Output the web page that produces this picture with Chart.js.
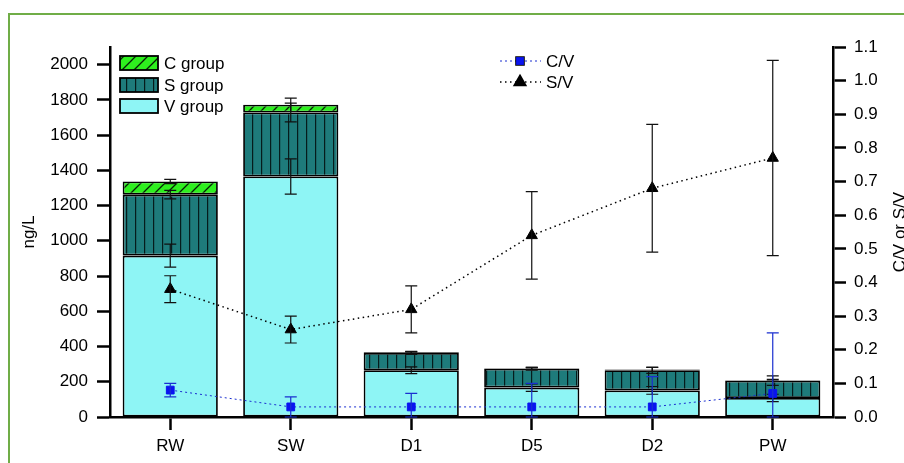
<!DOCTYPE html>
<html><head><meta charset="utf-8">
<script src="https://cdn.jsdelivr.net/npm/chart.js@4.4.1/dist/chart.umd.min.js"></script>
<style>
html,body{margin:0;padding:0;background:#fff;overflow:hidden;width:904px;height:463px}
#wrap{position:relative;width:904px;height:463px}
#frame{position:absolute;left:8px;top:13px;width:1000px;height:1000px;border:2.5px solid #70ad47;box-sizing:border-box;pointer-events:none}
canvas{position:absolute;left:0;top:0}
</style></head>
<body><div id="wrap"><canvas id="c" width="904" height="463"></canvas><div id="frame"></div></div>
<script>
// ---- data ----
const categories = ['RW', 'SW', 'D1', 'D5', 'D2', 'PW'];
const vGroup = [916, 1365, 265, 167, 151, 108];
const sGroup = [346, 363, 98, 107, 114, 98];
const cGroup = [75, 44, 4, 3, 4, 3];
const vErr = [65, 100, 19, 21, 22, 21];
const sErr = [24, 53, 8, 8, 18, 27];
const cErr = [12, 38, 5, 5, 12, 5];
const cvRatio = [0.08, 0.03, 0.03, 0.03, 0.03, 0.07];
const cvErr = [0.02, 0.03, 0.04, 0.07, 0.09, 0.18];
const svRatio = [0.38, 0.26, 0.32, 0.54, 0.68, 0.77];
const svErr = [0.04, 0.04, 0.07, 0.13, 0.19, 0.29];
const leftTicks = {min: 0, max: 2100, step: 200};
const rightTicks = {min: 0, max: 1.1, step: 0.1};

const FONT = 'Liberation Sans, Arial, sans-serif';
Chart.defaults.font.family = FONT;
Chart.defaults.color = '#000';

const canvas = document.getElementById('c');
const mctx = canvas.getContext('2d');

function makeVPattern() {
  const c = document.createElement('canvas'); c.width = 9; c.height = 9;
  const g = c.getContext('2d');
  g.fillStyle = '#1e7b7b'; g.fillRect(0, 0, 9, 9);
  g.fillStyle = '#051c1c'; g.fillRect(0, 0, 1.2, 9);
  return mctx.createPattern(c, 'repeat');
}
function makeDPattern() {
  const c = document.createElement('canvas'); c.width = 12; c.height = 12;
  const g = c.getContext('2d');
  g.fillStyle = '#2ef01e'; g.fillRect(0, 0, 12, 12);
  g.strokeStyle = '#062006'; g.lineWidth = 1.3;
  g.beginPath();
  g.moveTo(0, 12); g.lineTo(12, 0);
  g.moveTo(-6, 6); g.lineTo(6, -6);
  g.moveTo(6, 18); g.lineTo(18, 6);
  g.stroke();
  return mctx.createPattern(c, 'repeat');
}
const sPat = makeVPattern();
const cPat = makeDPattern();
const vColor = '#8ef5f5';
const blue = '#1a2fd0';

function drawErr(ctx, x, yTop, yBot, color, lw) {
  ctx.strokeStyle = color; ctx.lineWidth = lw;
  ctx.beginPath();
  ctx.moveTo(x, yTop); ctx.lineTo(x, yBot);
  ctx.moveTo(x - 6, yTop); ctx.lineTo(x + 6, yTop);
  ctx.moveTo(x - 6, yBot); ctx.lineTo(x + 6, yBot);
  ctx.stroke();
}

const overlay = {
  id: 'overlay',
  afterDatasetDraw(chart, args) {
    if (args.index !== 0) return;
    const ctx = chart.ctx, x = chart.scales.x, y = chart.scales.y;
    ctx.save();
    const stacks = [vGroup, sGroup, cGroup], errs = [vErr, sErr, cErr];
    categories.forEach((c, i) => {
      let cum = 0;
      const px = x.getPixelForValue(i);
      stacks.forEach((arr, k) => {
        cum += arr[i];
        drawErr(ctx, px, y.getPixelForValue(cum + errs[k][i]), y.getPixelForValue(cum - errs[k][i]), '#111', 1.2);
      });
    });
    ctx.restore();
  },
  afterDatasetsDraw(chart) {
    const ctx = chart.ctx, x = chart.scales.x, y2 = chart.scales.y2;
    ctx.save();
    categories.forEach((c, i) => {
      const px = x.getPixelForValue(i);
      drawErr(ctx, px, y2.getPixelForValue(svRatio[i] + svErr[i]), y2.getPixelForValue(svRatio[i] - svErr[i]), '#111', 1.2);
    });
    categories.forEach((c, i) => {
      const px = x.getPixelForValue(i);
      drawErr(ctx, px, y2.getPixelForValue(cvRatio[i] + cvErr[i]), y2.getPixelForValue(Math.max(0, cvRatio[i] - cvErr[i])), blue, 1.2);
    });
    ctx.restore();
  },
  afterDraw(chart) {
    const ctx = chart.ctx, ca = chart.chartArea;
    ctx.save();
    // axis titles
    ctx.fillStyle = '#000';
    ctx.font = '17px ' + FONT;
    ctx.textAlign = 'center'; ctx.textBaseline = 'middle';
    const midY = (ca.top + ca.bottom) / 2;
    ctx.save(); ctx.translate(29, midY); ctx.rotate(-Math.PI / 2); ctx.fillText('ng/L', 0, 0); ctx.restore();
    ctx.save(); ctx.translate(900, midY); ctx.rotate(-Math.PI / 2); ctx.fillText('C/V or S/V', 0, 0); ctx.restore();

    // bar legend
    const ds = chart.data.datasets;
    const items = [[ds[2], 63], [ds[1], 85], [ds[0], 106]];
    ctx.textAlign = 'left';
    items.forEach(([d, cy]) => {
      ctx.fillStyle = d.backgroundColor;
      ctx.fillRect(120, cy - 7, 38, 14);
      ctx.strokeStyle = '#000'; ctx.lineWidth = 1.8;
      ctx.strokeRect(120, cy - 7, 38, 14);
      ctx.fillStyle = '#000';
      ctx.fillText(d.label, 164, cy + 1);
    });

    // line legend
    const lines = [[ds[3], 61], [ds[4], 82]];
    lines.forEach(([d, cy]) => {
      ctx.save();
      ctx.strokeStyle = d.borderColor; ctx.lineWidth = d.borderWidth;
      ctx.setLineDash(d.borderDash);
      ctx.beginPath(); ctx.moveTo(500, cy); ctx.lineTo(541, cy); ctx.stroke();
      ctx.restore();
      Chart.helpers.drawPoint(ctx, {pointStyle: d.pointStyle, radius: d.pointRadius, rotation: 0, borderWidth: 1},
        520, cy);
      ctx.fillStyle = d.pointBackgroundColor;
      ctx.fill();
      ctx.fillStyle = '#000';
      ctx.fillText(d.label, 546, cy + 1);
    });
    ctx.restore();
  }
};

const axisCommon = {
  border: {display: true, color: '#000', width: 2.5},
  grid: {display: true, drawOnChartArea: false, drawTicks: true, tickLength: 13, tickWidth: 2.5, tickColor: '#000', color: '#000'},
};
const barStyle = {borderColor: '#000', borderWidth: 1.8, borderSkipped: false, stack: 's', yAxisID: 'y', order: 1, barPercentage: 0.79, categoryPercentage: 1};

new Chart(canvas, {
  type: 'bar',
  data: {
    labels: categories,
    datasets: [
      Object.assign({label: 'V group', data: vGroup, backgroundColor: vColor}, barStyle),
      Object.assign({label: 'S group', data: sGroup, backgroundColor: sPat}, barStyle),
      Object.assign({label: 'C group', data: cGroup, backgroundColor: cPat}, barStyle),
      {type: 'line', label: 'C/V', data: cvRatio, yAxisID: 'y2', borderColor: blue, borderWidth: 1, borderDash: [2, 3], pointStyle: 'rect', pointRadius: 5.5, pointBackgroundColor: '#0a14f0', pointBorderColor: '#0a14f0', pointBorderWidth: 1, tension: 0, order: 0},
      {type: 'line', label: 'S/V', data: svRatio, yAxisID: 'y2', borderColor: '#000', borderWidth: 1.5, borderDash: [1.5, 3.5], pointStyle: 'triangle', pointRadius: 6.5, pointBackgroundColor: '#000', pointBorderColor: '#000', pointBorderWidth: 1, tension: 0, order: 0}
    ]
  },
  options: {
    responsive: false,
    animation: false,
    events: [],
    layout: {padding: {left: 0, right: 0, top: 47, bottom: 0}},
    plugins: {legend: {display: false}, tooltip: {enabled: false}},
    scales: {
      x: {
        stacked: true, offset: true,
        border: axisCommon.border,
        grid: Object.assign({}, axisCommon.grid, {offset: false}),
        ticks: {font: {size: 17}, color: '#000', padding: 6, maxRotation: 0},
        afterFit(s) { s.height = 46; }
      },
      y: {
        type: 'linear', position: 'left', stacked: true,
        min: leftTicks.min, max: leftTicks.max,
        border: axisCommon.border, grid: axisCommon.grid,
        ticks: {stepSize: leftTicks.step, includeBounds: false, font: {size: 17}, color: '#000', padding: 9,
          callback: v => String(v)},
        afterFit(s) { s.width = 110; }
      },
      y2: {
        type: 'linear', position: 'right',
        min: rightTicks.min, max: rightTicks.max,
        border: axisCommon.border, grid: axisCommon.grid,
        ticks: {stepSize: rightTicks.step, font: {size: 17}, color: '#000', padding: 8,
          callback: v => Number(v).toFixed(1)},
        afterFit(s) { s.width = 71; }
      }
    }
  },
  plugins: [overlay]
});
</script>
</body></html>
